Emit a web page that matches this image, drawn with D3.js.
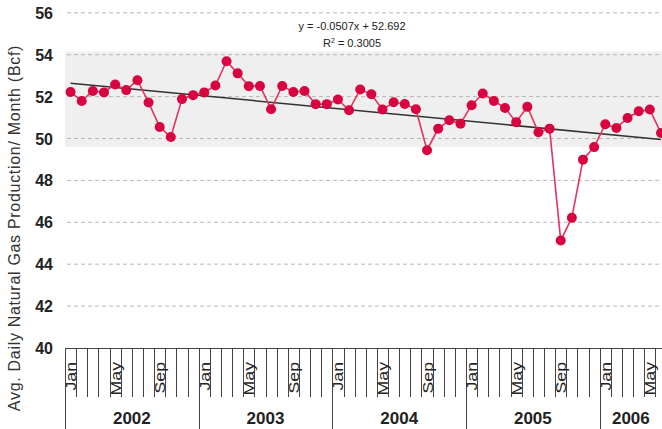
<!DOCTYPE html>
<html lang="en">
<head>
    <meta charset="UTF-8">
    <title>Avg. Daily Natural Gas Production</title>
    <script src="https://d3js.org/d3.v7.min.js"></script>
    <style>
        body { margin: 0; background: #fff; }
        text { font-family: 'Liberation Sans', Arial, sans-serif; fill: #222; }
        .ytick { font-size: 16px; font-weight: bold; text-anchor: end; }
        .mlabel { font-size: 15px; text-anchor: end; }
        .ytitle { font-size: 16px; text-anchor: middle; letter-spacing: 0.7px; fill: #333; }
        .year { font-size: 17px; font-weight: bold; text-anchor: middle; }
        .eq { font-size: 11px; text-anchor: middle; }
    </style>
</head>
<body>
<script>
    const width = 662;
    const height = 429;

    const years = ['2002', '2003', '2004', '2005', '2006'];
    const monthNames = ['Jan', 'Feb', 'Mar', 'Apr', 'May', 'Jun', 'Jul', 'Aug', 'Sep', 'Oct', 'Nov', 'Dec'];
    const shownMonths = ['Jan', 'May', 'Sep'];
    const yTicks = [40, 42, 44, 46, 48, 50, 52, 54, 56];

    // Bcf, Jan 2002 .. Jun 2006
    const production = [
        52.22, 51.79, 52.27, 52.20, 52.58, 52.31, 52.78, 51.72, 50.55, 50.07, 51.88, 52.07,
        52.20, 52.53, 53.69, 53.11, 52.50, 52.51, 51.40, 52.51, 52.22, 52.27, 51.64, 51.64,
        51.86, 51.35, 52.34, 52.11, 51.38, 51.73, 51.65, 51.40, 49.44, 50.47, 50.87, 50.71,
        51.59, 52.15, 51.79, 51.46, 50.78, 51.51, 50.30, 50.47, 45.13, 46.22, 48.99, 49.59,
        50.68, 50.50, 50.98, 51.30, 51.38, 50.26
    ];

    const trendSlope = -0.0507;
    const trendIntercept = 52.692;
    const rSquared = 0.3005;
    const band = [49.6, 54.15];

    const months = production.map((v, i) => ({
        i: i,
        year: years[Math.floor(i / 12)],
        month: monthNames[i % 12],
        value: v
    }));

    const plotLeft = 65, plotTop = 12.8, plotBottom = 348;
    const monthW = 11.14;

    const x = d3.scaleBand()
        .domain(months.map(d => d.i))
        .range([plotLeft, plotLeft + months.length * monthW])
        .padding(0);
    const y = d3.scaleLinear().domain([40, 56]).range([plotBottom, plotTop]);

    const svg = d3.select("body").append("svg").attr("width", width).attr("height", height);
    const chart = svg.append("g");

    // grey shaded band
    chart.append("rect")
        .attr("x", plotLeft)
        .attr("y", y(band[1]))
        .attr("width", width - plotLeft)
        .attr("height", y(band[0]) - y(band[1]))
        .style("fill", "#efefef");

    // gridlines
    chart.selectAll("line.grid")
        .data(yTicks.filter(d => d > 40))
        .enter()
        .append("line")
        .attr("class", "grid")
        .attr("x1", plotLeft + 2)
        .attr("x2", width)
        .attr("y1", d => y(d))
        .attr("y2", d => y(d))
        .style("stroke", "#b8b8b8")
        .style("stroke-width", 1)
        .style("stroke-dasharray", "4,3");

    // y tick labels
    chart.selectAll("text.ytick")
        .data(yTicks)
        .enter()
        .append("text")
        .attr("class", "ytick")
        .attr("x", 53)
        .attr("y", d => y(d) + 6)
        .text(d => d);

    // y axis title
    chart.append("text")
        .attr("class", "ytitle")
        .attr("transform", "translate(20," + 228 + ") rotate(-90)")
        .text("Avg. Daily Natural Gas Production/ Month (Bcf)");

    // category axis
    const axisG = svg.append("g").style("stroke", "#444").style("stroke-width", 1);
    axisG.append("line")
        .attr("x1", plotLeft).attr("x2", width)
        .attr("y1", plotBottom + 0.5).attr("y2", plotBottom + 0.5);

    axisG.selectAll("line.mtick")
        .data(months.concat([{i: months.length}]))
        .enter()
        .append("line")
        .attr("class", "mtick")
        .attr("x1", d => Math.round(d.i < months.length ? x(d.i) : x.range()[1]) + 0.5)
        .attr("x2", d => Math.round(d.i < months.length ? x(d.i) : x.range()[1]) + 0.5)
        .attr("y1", plotBottom)
        .attr("y2", d => d.i % 12 === 0 ? height : 397);

    svg.selectAll("text.mlabel")
        .data(months.filter(d => shownMonths.includes(d.month)))
        .enter()
        .append("text")
        .attr("class", "mlabel")
        .attr("transform", d => "translate(" + (x(d.i) + x.bandwidth() / 2 + 5.5) + ",362) rotate(-90) scale(1.18,1)")
        .text(d => d.month);

    svg.selectAll("text.year")
        .data(years)
        .enter()
        .append("text")
        .attr("class", "year")
        .attr("x", d => {
            const first = months.find(m => m.year === d).i;
            const last = Math.min(first + 11, months.length - 1);
            return Math.min((x(first) + x(last) + x.bandwidth()) / 2, (x(first) + width) / 2);
        })
        .attr("y", 424)
        .text(d => d);

    // trend line
    const trend = d3.line()
        .x(d => x(d.i) + x.bandwidth() / 2)
        .y(d => y(trendSlope * (d.i + 1) + trendIntercept));
    chart.append("path")
        .attr("d", trend([months[0], months[months.length - 1]]))
        .style("stroke", "#333")
        .style("stroke-width", 1.5)
        .style("fill", "none");

    // series line and markers
    const line = d3.line()
        .x(d => x(d.i) + x.bandwidth() / 2)
        .y(d => y(d.value));
    chart.append("path")
        .attr("d", line(months))
        .style("stroke", "#e0355e")
        .style("stroke-width", 1.6)
        .style("fill", "none");

    chart.selectAll("circle")
        .data(months)
        .enter()
        .append("circle")
        .attr("cx", d => x(d.i) + x.bandwidth() / 2)
        .attr("cy", d => y(d.value))
        .attr("r", 5)
        .style("fill", "#d8043f");

    // regression text
    chart.append("text")
        .attr("class", "eq")
        .attr("x", 352)
        .attr("y", 30)
        .text("y = " + trendSlope.toFixed(4) + "x + " + trendIntercept.toFixed(3));
    const r2 = chart.append("text")
        .attr("class", "eq")
        .attr("x", 352)
        .attr("y", 47);
    r2.append("tspan").text("R");
    r2.append("tspan").attr("dy", -4).style("font-size", "7px").text("2");
    r2.append("tspan").attr("dy", 4).text(" = " + rSquared.toFixed(4));
</script>
</body>
</html>
